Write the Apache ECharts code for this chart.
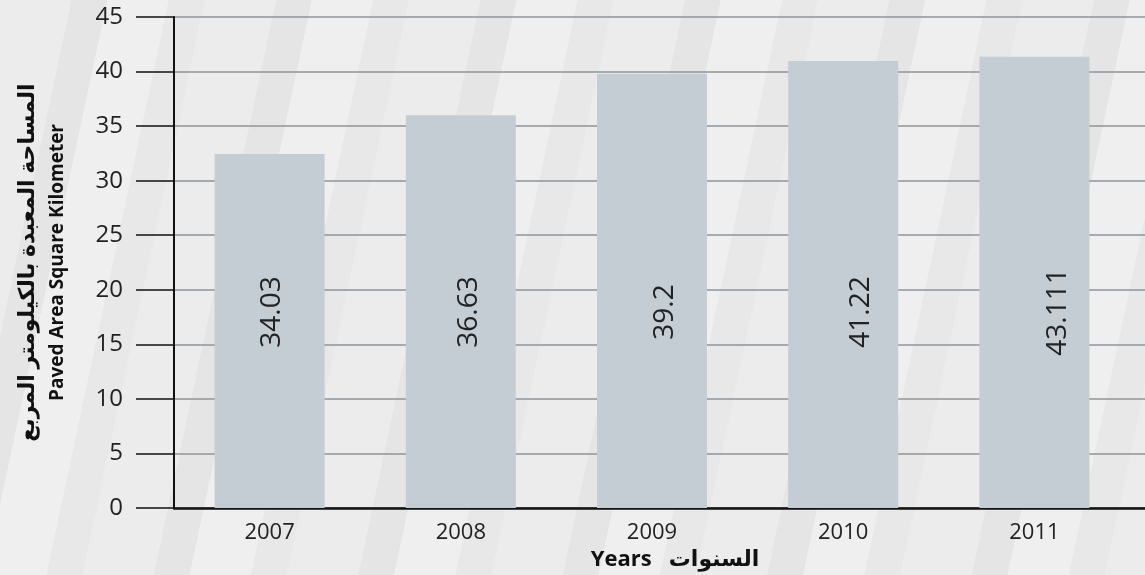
<!DOCTYPE html>
<html>
<head>
<meta charset="utf-8">
<script src="https://cdn.jsdelivr.net/npm/echarts@6/dist/echarts.min.js"></script>
<style>
  html, body { margin: 0; padding: 0; }
  #chart {
    width: 1145px; height: 575px;
    background: repeating-linear-gradient(102deg, #ececec 0px, #ececec 70px, #e5e5e5 70px, #e5e5e5 105px, #efefef 105px, #efefef 165px, #e8e8e8 165px, #e8e8e8 200px);
  }
</style>
</head>
<body>
<div id="chart"></div>
<script>
// years on the x axis
var years = ['2007', '2008', '2009', '2010', '2011'];
// bar heights as drawn
var barValues = [32.45, 36.0, 39.8, 40.97, 41.35];
// printed labels inside the bars
var barLabels = ['34.03', '36.63', '39.2', '41.22', '43.111'];

var chart = echarts.init(document.getElementById('chart'));

chart.setOption({
  backgroundColor: 'transparent',
  textStyle: { fontFamily: 'Open Sans, DejaVu Sans, sans-serif' },
  grid: [
    // lines and y axis
    { left: 174, right: 0, top: 17, bottom: 67, outerBoundsMode: 'none' },
    // bars
    { left: 174, right: 15, top: 17, bottom: 67, outerBoundsMode: 'none' },
    // bar labels sit on a slightly wider spacing
    { left: 174, width: 982, top: 17, bottom: 67, outerBoundsMode: 'none' }
  ],
  xAxis: [
    {
      gridIndex: 0, type: 'value', min: 0, max: 1,
      axisLine: { show: true, lineStyle: { color: '#111', width: 2.5 } },
      axisTick: { show: false }, axisLabel: { show: false }, splitLine: { show: false }
    },
    {
      gridIndex: 1, type: 'category', data: years,
      axisLine: { show: false }, axisTick: { show: false },
      axisLabel: { color: '#222', fontSize: 22, margin: 14 },
      name: 'Years   السنوات',
      nameLocation: 'middle',
      nameGap: 40,
      nameTextStyle: { color: '#111', fontSize: 22, fontWeight: 'bold', padding: [0, 0, 0, 46] }
    },
    {
      gridIndex: 2, type: 'category', data: years, show: false
    }
  ],
  yAxis: [
    {
      gridIndex: 0, type: 'value', min: 0, max: 45, interval: 5,
      axisLine: { show: true, lineStyle: { color: '#111', width: 2 } },
      axisTick: { show: true, length: 38, lineStyle: { color: '#111', width: 1.5 } },
      axisLabel: { color: '#222', fontSize: 24, margin: 51 },
      splitLine: { lineStyle: { color: '#8d9499', width: 1.5 } },
      name: '{ar|المساحة المعبدة بالكيلومتر المربع}\n{en|Paved Area Square Kilometer}',
      nameLocation: 'middle',
      nameRotate: 90,
      nameGap: 101,
      nameTextStyle: {
        color: '#111', fontWeight: 'bold', lineHeight: 30,
        rich: {
          ar: { fontSize: 22, fontWeight: 'bold', color: '#111', lineHeight: 30 },
          en: { fontSize: 19, fontWeight: 'bold', color: '#111', lineHeight: 30 }
        }
      }
    },
    { gridIndex: 1, type: 'value', min: 0, max: 45, show: false },
    { gridIndex: 2, type: 'value', min: 0, max: 45, show: false }
  ],
  series: [
    {
      type: 'bar',
      xAxisIndex: 1, yAxisIndex: 1,
      data: barValues,
      barWidth: 110,
      itemStyle: { color: '#c4ccd4' }
    },
    {
      type: 'bar',
      xAxisIndex: 2, yAxisIndex: 2,
      data: barValues,
      barWidth: 20,
      itemStyle: { color: 'rgba(0,0,0,0)' },
      label: {
        show: true,
        position: 'insideBottom',
        distance: 196,
        rotate: 90,
        align: 'center',
        verticalAlign: 'middle',
        color: '#222',
        fontSize: 28,
        formatter: function (p) { return barLabels[p.dataIndex]; }
      }
    }
  ]
});
</script>
</body>
</html>
